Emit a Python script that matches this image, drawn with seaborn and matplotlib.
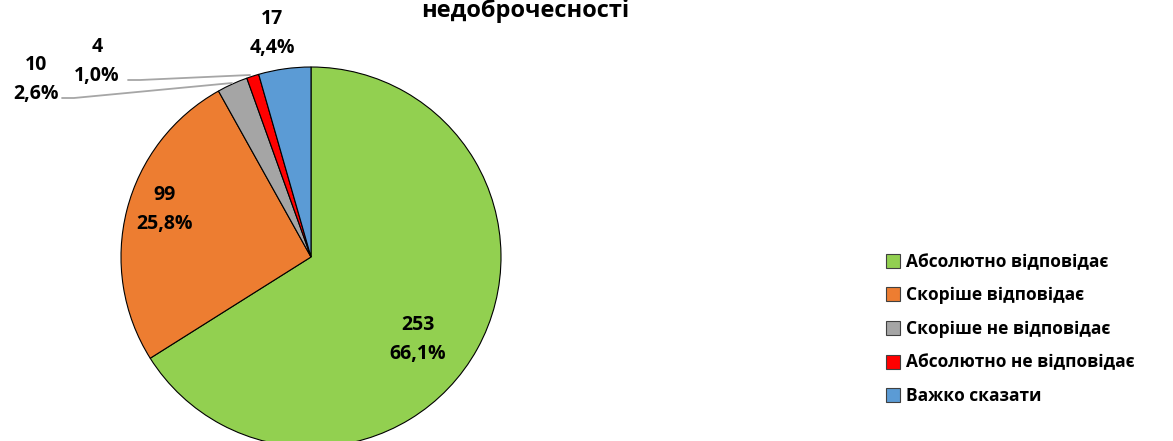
import matplotlib
matplotlib.use("Agg")
import matplotlib.pyplot as plt
import seaborn as sns

# Data
categories = ["Абсолютно відповідає", "Скоріше відповідає", "Скоріше не відповідає",
              "Абсолютно не відповідає", "Важко сказати"]
counts = [253, 99, 10, 4, 17]
colors = ["#92d050", "#ed7d31", "#a5a5a5", "#ff0000", "#5b9bd5"]
title_text = "недоброчесності"

sns.set_style("white")
plt.rcParams["font.family"] = ["Open Sans", "DejaVu Sans"]
plt.rcParams["text.color"] = "black"

W, H = 1173, 441
fig = plt.figure(figsize=(W / 100, H / 100), dpi=100)

# pie centre at pixel (311, 257), radius 190
cx, cy, r = 311, 257, 190
ax = fig.add_axes([(cx - r) / W, (H - cy - r) / H, 2 * r / W, 2 * r / H])
wedges, _ = ax.pie(counts, colors=colors, startangle=90, counterclock=False,
                   wedgeprops=dict(edgecolor="black", linewidth=0.8))
ax.set_xlim(-1, 1)
ax.set_ylim(-1, 1)
ax.set_aspect("equal")
ax.axis("off")

total = sum(counts)
labels = [f"{v}\n{v / total * 100:.1f}%".replace(".", ",") for v in counts]


def to_data(px, py):
    return (px - cx) / r, (cy - py) / r


# label positions in pixels
label_pos = [(418, 340), (165, 209), (36, 80), (97, 62), (272, 34)]
for lab, (px, py) in zip(labels, label_pos):
    x, y = to_data(px, py)
    ax.text(x, y, lab, ha="center", va="center", fontsize=14, fontweight="bold",
            linespacing=1.6, clip_on=False)

# leader lines for small slices
leaders = [
    [(62, 98), (74, 98), (232, 83)],
    [(128, 80), (140, 80), (250, 75)],
]
for pts in leaders:
    xs, ys = zip(*[to_data(px, py) for px, py in pts])
    ax.plot(xs, ys, color="#a6a6a6", linewidth=1.3, clip_on=False)

fig.text(525 / W, 1 - 11 / H, title_text, ha="center", va="center",
         fontsize=17, fontweight="bold")

leg = fig.legend(wedges, categories, loc="center left",
                 bbox_to_anchor=(870 / W, 1 - 329 / H), frameon=False,
                 prop=dict(size=12.5, weight="bold"), handlelength=0.85, handleheight=0.85,
                 handletextpad=0.3, labelspacing=0.9)
for h in leg.legend_handles:
    h.set_edgecolor("#404040")

fig.savefig("out.png", dpi=100)
